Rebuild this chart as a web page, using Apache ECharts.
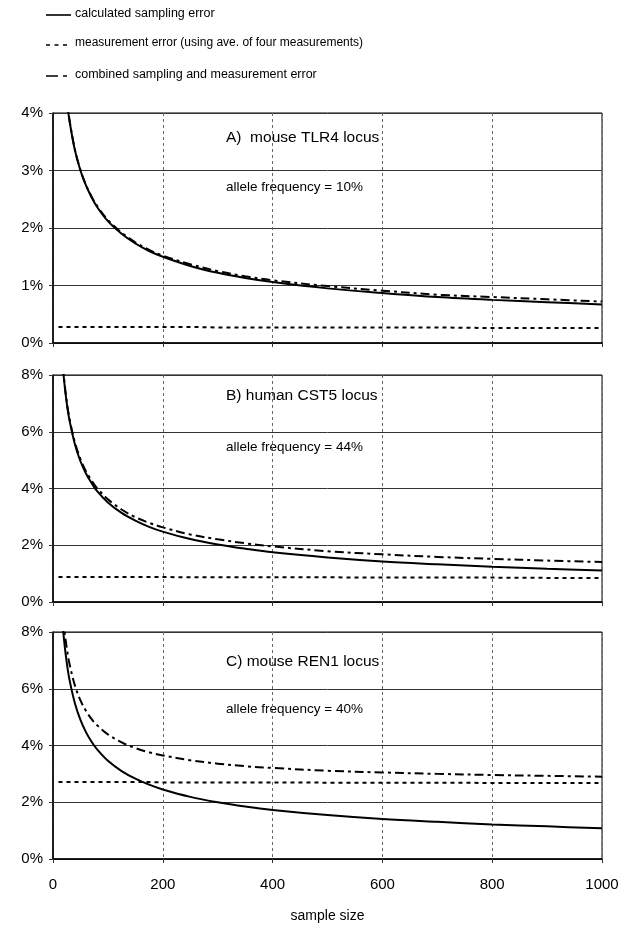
<!DOCTYPE html>
<html>
<head>
<meta charset="utf-8">
<script src="https://cdn.jsdelivr.net/npm/echarts@6/dist/echarts.min.js"></script>
<style>
html,body{margin:0;padding:0;background:#fff;}
#chart{width:629px;height:949px;}
</style>
</head>
<body>
<div id="chart"></div>
<script>
// Sample sizes (x values)
var sampleSizes = [10, 15, 20, 25, 30, 40, 50, 60, 70, 80, 100, 125, 150, 175, 200, 250, 300, 350, 400, 500, 600, 700, 800, 900, 1000];

// Panel A: mouse TLR4 locus (allele frequency 10%), values in %
var samplingA = [6.71, 5.48, 4.74, 4.24, 3.87, 3.35, 3.00, 2.74, 2.54, 2.37, 2.12, 1.90, 1.73, 1.60, 1.50, 1.34, 1.22, 1.13, 1.06, 0.95, 0.87, 0.80, 0.75, 0.71, 0.67];
var measureA  = [0.28, 0.28, 0.28, 0.28, 0.28, 0.28, 0.28, 0.28, 0.28, 0.28, 0.28, 0.28, 0.28, 0.28, 0.28, 0.28, 0.27, 0.27, 0.27, 0.27, 0.27, 0.27, 0.26, 0.26, 0.26];
var combinedA = [6.72, 5.48, 4.75, 4.25, 3.88, 3.36, 3.01, 2.75, 2.55, 2.39, 2.14, 1.92, 1.75, 1.62, 1.52, 1.37, 1.25, 1.16, 1.09, 0.99, 0.91, 0.84, 0.80, 0.76, 0.72];

// Panel B: human CST5 locus (allele frequency 44%)
var samplingB = [11.10, 9.06, 7.85, 7.02, 6.41, 5.55, 4.96, 4.53, 4.20, 3.92, 3.51, 3.14, 2.87, 2.65, 2.48, 2.22, 2.03, 1.88, 1.75, 1.57, 1.43, 1.33, 1.24, 1.17, 1.11];
var measureB  = [0.88, 0.88, 0.88, 0.88, 0.88, 0.88, 0.88, 0.88, 0.88, 0.88, 0.88, 0.88, 0.88, 0.88, 0.88, 0.87, 0.87, 0.87, 0.87, 0.87, 0.86, 0.86, 0.86, 0.85, 0.85];
var combinedB = [11.13, 9.10, 7.90, 7.07, 6.47, 5.62, 5.04, 4.61, 4.29, 4.02, 3.62, 3.26, 2.99, 2.79, 2.63, 2.38, 2.21, 2.07, 1.96, 1.79, 1.68, 1.59, 1.52, 1.46, 1.41];

// Panel C: mouse REN1 locus (allele frequency 40%)
var samplingC = [10.95, 8.94, 7.75, 6.93, 6.32, 5.48, 4.90, 4.47, 4.14, 3.87, 3.46, 3.10, 2.83, 2.62, 2.45, 2.19, 2.00, 1.85, 1.73, 1.55, 1.41, 1.31, 1.22, 1.15, 1.08];
var measureC  = [2.71, 2.71, 2.71, 2.71, 2.71, 2.71, 2.71, 2.71, 2.71, 2.71, 2.71, 2.71, 2.71, 2.71, 2.70, 2.70, 2.70, 2.70, 2.70, 2.69, 2.69, 2.69, 2.68, 2.68, 2.68];
var combinedC = [11.28, 9.34, 8.20, 7.44, 6.88, 6.11, 5.59, 5.22, 4.94, 4.72, 4.39, 4.11, 3.91, 3.76, 3.65, 3.48, 3.36, 3.27, 3.21, 3.11, 3.05, 3.00, 2.96, 2.93, 2.90];

var panelTitles = ['A)  mouse TLR4 locus', 'B) human CST5 locus', 'C) mouse REN1 locus'];
var panelNotes = ['allele frequency = 10%', 'allele frequency = 44%', 'allele frequency = 40%'];
var yMax = [4, 8, 8];
var yInterval = [1, 2, 2];
var seriesNames = ['calculated sampling error', 'measurement error (using ave. of four measurements)', 'combined sampling and measurement error'];

var FONT = '"Liberation Sans", Arial, sans-serif';

function pairs(ys) {
  return sampleSizes.map(function (x, i) { return [x, ys[i]]; });
}

var panelData = [
  [samplingA, measureA, combinedA],
  [samplingB, measureB, combinedB],
  [samplingC, measureC, combinedC]
];

var gridTops = [113, 375, 632];
var gridHeights = [230, 227, 227];
var grids = [], xAxes = [], yAxes = [], series = [], graphics = [];

var dashTypes = ['solid', [4, 4], [9, 4, 3, 4]];

for (var p = 0; p < 3; p++) {
  grids.push({
    left: 53, width: 549, top: gridTops[p], height: gridHeights[p],
    show: true, borderColor: '#000', borderWidth: 1, backgroundColor: 'transparent'
  });
  xAxes.push({
    type: 'value', gridIndex: p, min: 0, max: 1000, interval: 200,
    axisLine: { show: true, lineStyle: { color: '#000', width: 1.5 } },
    axisTick: { show: true, length: 4, lineStyle: { color: '#333' } },
    axisLabel: { show: p === 2, fontSize: 15, color: '#000', fontFamily: FONT, margin: 18,
      formatter: function (v) { return String(v); } },
    splitLine: { show: true, lineStyle: { color: '#666', type: [3, 3], width: 1 } },
    name: p === 2 ? 'sample size' : '',
    nameLocation: 'middle', nameGap: 50,
    nameTextStyle: { fontSize: 14, color: '#000', fontFamily: FONT }
  });
  yAxes.push({
    type: 'value', gridIndex: p, min: 0, max: yMax[p], interval: yInterval[p],
    axisLine: { show: true, lineStyle: { color: '#000', width: 1.5 } },
    axisTick: { show: true, length: 4, lineStyle: { color: '#333' } },
    axisLabel: { formatter: '{value}%', fontSize: 15, color: '#000', fontFamily: FONT, margin: 10 },
    splitLine: { show: true, lineStyle: { color: '#333', width: 1 } }
  });
  for (var s = 0; s < 3; s++) {
    series.push({
      name: seriesNames[s],
      type: 'line',
      xAxisIndex: p, yAxisIndex: p,
      data: pairs(panelData[p][s]),
      showSymbol: false, symbol: 'none',
      smooth: s === 1 ? false : 0.35,
      clip: true,
      lineStyle: { color: '#000', type: dashTypes[s], width: 2 },
      itemStyle: { color: '#000' },
      z: 3 - s
    });
  }
}

var titleY = [139, 397, 663];
var noteY = [188, 448, 710];
for (var p2 = 0; p2 < 3; p2++) {
  graphics.push({
    type: 'text', left: 226, top: titleY[p2] - 9,
    style: { text: panelTitles[p2], fill: '#000', font: '15.5px ' + FONT }
  });
  graphics.push({
    type: 'text', left: 226, top: noteY[p2] - 8,
    style: { text: panelNotes[p2], fill: '#000', font: '13.5px ' + FONT }
  });
}

// Legend (drawn as graphic: key lines + labels)
var legendY = [15, 45, 76];
var legendFont = ['12.5px ', '12px ', '12.5px '];
for (var k = 0; k < 3; k++) {
  graphics.push({
    type: 'line',
    shape: { x1: 46, y1: legendY[k], x2: 71, y2: legendY[k] },
    style: { stroke: '#000', lineWidth: 1.6, lineDash: k === 0 ? null : (k === 1 ? [4, 4.5] : [12, 5, 4, 20]) }
  });
  graphics.push({
    type: 'text', left: 75, top: legendY[k] - 8,
    style: { text: seriesNames[k], fill: '#000', font: legendFont[k] + FONT }
  });
}

var chart = echarts.init(document.getElementById('chart'), null, { renderer: 'canvas' });
chart.setOption({
  backgroundColor: '#fff',
  animation: false,
  grid: grids,
  xAxis: xAxes,
  yAxis: yAxes,
  series: series,
  graphic: graphics
});
</script>
</body>
</html>
